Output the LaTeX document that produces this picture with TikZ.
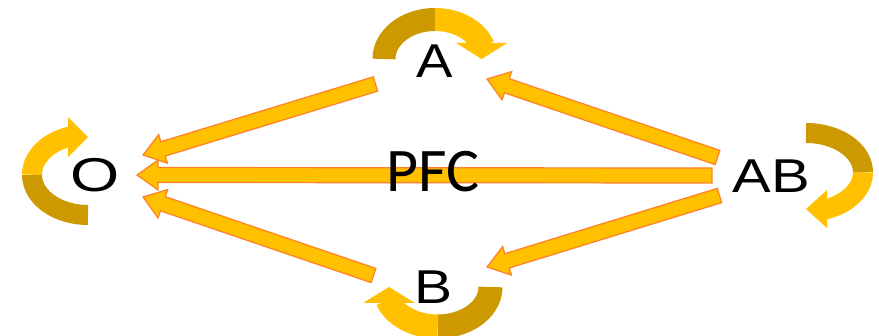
\documentclass[tikz,border=0pt]{standalone}
\usepackage{fontspec}
\usepackage{graphicx}
\setmainfont{Liberation Sans}
\newfontfamily\pfcfont{Carlito}
\usetikzlibrary{calc}

\definecolor{gold}{RGB}{255,192,0}
\definecolor{darkgold}{RGB}{204,153,0}
\definecolor{edgeorange}{RGB}{255,128,40}

% straight block arrow from a tail coordinate to a tip coordinate
\newcommand\blockarrow[2]{%
  \coordinate (hb) at ($(#2)!21pt!(#1)$);
  \draw[blockarrow]
    ($(#1)!7.5pt!90:(#2)$) -- ($(hb)!7.5pt!90:(#2)$) -- ($(hb)!15pt!90:(#2)$)
    -- (#2)
    -- ($(hb)!15pt!-90:(#2)$) -- ($(hb)!7.5pt!-90:(#2)$) -- ($(#1)!7.5pt!-90:(#2)$)
    -- cycle;
}

% curved self-loop arrow: #1 half spread, #2 depth, #3 band width,
% #4 head width, #5 head length; drawn arching upwards, head on the right
\newcommand\loopshape[5]{%
  \pgfmathsetmacro\thz{asin(#5/#2)}%
  \pgfmathsetmacro\thzz{\thz-5}%
  \pgfmathsetmacro\xe{#1*cos(\thz)}%
  \draw[line width=#3pt, draw=darkgold, line join=round]
    plot[domain=180:90, samples=40] ({#1*cos(\x)},{-#2*sin(\x)});
  \draw[line width=#3pt, draw=gold, line join=round]
    plot[domain=90:\thzz, samples=40] ({#1*cos(\x)},{-#2*sin(\x)});
  \fill[gold] (\xe-#4/2,-#5) -- (\xe+#4/2,-#5) -- (\xe,0) -- cycle;
}

\tikzset{
  blockarrow/.style={fill=gold, draw=edgeorange, line width=1.2pt, line join=miter},
  state/.style={inner sep=0pt, anchor=base, font=\fontsize{47.5}{48}\selectfont},
  centre/.style={inner sep=0pt, anchor=base, font=\pfcfont\fontsize{62}{62}\selectfont}
}

\begin{document}
\begin{tikzpicture}[x=1pt, y=-1pt]
  \useasboundingbox (0,0) rectangle (879,336);

  % self-loops
  \begin{scope}[shift={(435,59)}]
    \loopshape{51}{39.5}{23}{51}{16}
  \end{scope}
  \begin{scope}[shift={(437.5,287)}, rotate=180]
    \loopshape{53}{39.5}{24}{52}{16}
  \end{scope}
  \begin{scope}[shift={(88,174.7)}, rotate=90]
    \loopshape{40.3}{56}{20}{40}{20}
  \end{scope}
  \begin{scope}[shift={(806,172.4)}, rotate=-90]
    \loopshape{39.4}{57}{20}{38}{21}
  \end{scope}

  % arrow end points
  \coordinate (AtoO-tail) at (375.5,84);
  \coordinate (AtoO-tip) at (143,155);
  \coordinate (BtoO-tail) at (373.5,275.5);
  \coordinate (BtoO-tip) at (143,197);
  \coordinate (ABtoO-tail) at (712,175.5);
  \coordinate (ABtoO-tip) at (137,175);
  \coordinate (ABtoA-tail) at (717.5,157.5);
  \coordinate (ABtoA-tip) at (487,79);
  \coordinate (ABtoB-tail) at (719.5,195.5);
  \coordinate (ABtoB-tip) at (487,267);

  \blockarrow{AtoO-tail}{AtoO-tip}
  \blockarrow{BtoO-tail}{BtoO-tip}
  \blockarrow{ABtoA-tail}{ABtoA-tip}
  \blockarrow{ABtoB-tail}{ABtoB-tip}
  \blockarrow{ABtoO-tail}{ABtoO-tip}

  % states
  \node[state] (A) at (435,78) {\scalebox{1.15}[1]{A}};
  \node[state] (B) at (434,304) {\scalebox{1.2}[1]{B}};
  \node[state] (O) at (95,192) {\scalebox{1.33}[1]{O}};
  \node[state] (AB) at (771,193) {\scalebox{1.22}[1]{AB}};
  \node[centre] (PFC) at (433,192) {PFC};
\end{tikzpicture}
\end{document}
